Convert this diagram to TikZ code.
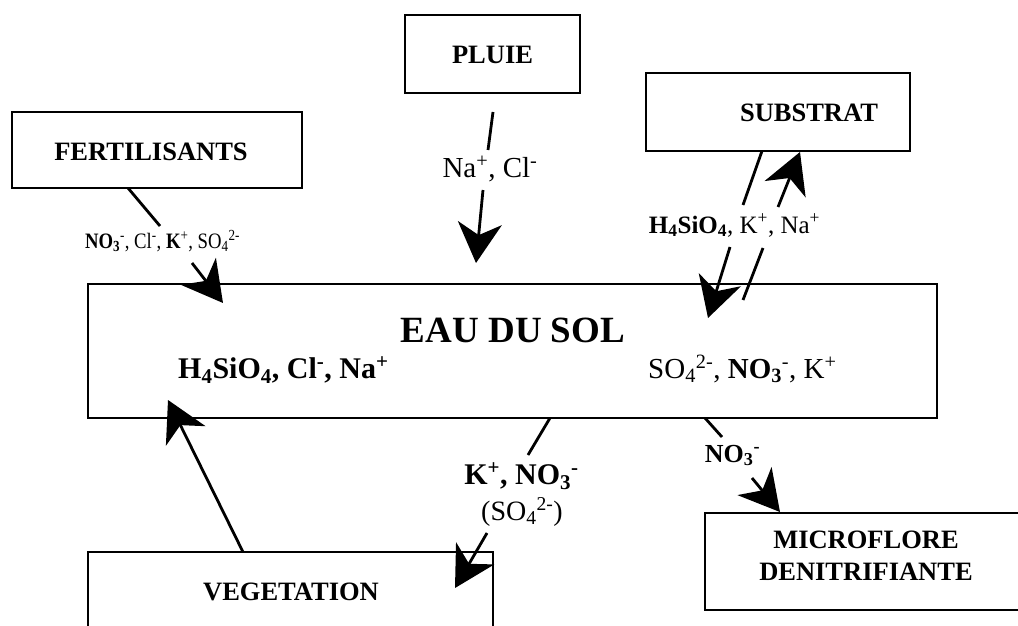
\documentclass[tikz,border=0pt]{standalone}
\usepackage{fontspec}
\usepackage{graphicx}
\setmainfont{Liberation Serif}
\usetikzlibrary{arrows.meta}
\begin{document}
\begin{tikzpicture}[x=1pt,y=-1pt,
  box/.style={draw, line width=1.2pt, inner sep=0pt},
  boxtext/.style={font=\fontsize{26.5}{32}\selectfont\bfseries, inner sep=0pt, align=center},
  flow/.style={line width=2.8pt},
  flowarrow/.style={line width=2.8pt, -{Stealth[length=40pt,width=44pt,inset=12pt]}},
  ion/.style={inner sep=0pt, anchor=base}]
\useasboundingbox (0,0) rectangle (1018,626);

% boxes
\node[box, minimum width=290pt, minimum height=76pt] (fert) at (157,150) {};
\node[boxtext] (fertT) at (151,152) {FERTILISANTS};
\node[box, minimum width=175pt, minimum height=78pt] (pluie) at (492.5,54) {};
\node[boxtext] (pluieT) at (492.5,55) {PLUIE};
\node[box, minimum width=264pt, minimum height=78pt] (sub) at (778,112) {};
\node[boxtext] (subT) at (809,113) {SUBSTRAT};
\node[box, minimum width=849pt, minimum height=134pt] (eau) at (512.5,351) {};
\node[box, minimum width=405pt, minimum height=84pt] (veg) at (290.5,594) {};
\node[boxtext] (vegT) at (291,592) {VEGETATION};
\node[box, minimum width=322pt, minimum height=97pt] (micro) at (866,561.5) {};
\node[boxtext] (microT) at (866,556) {MICROFLORE\\DENITRIFIANTE};

% texts in EAU DU SOL
\node[ion, font=\fontsize{37}{40}\selectfont\bfseries] (eauT) at (513,342) {EAU DU SOL};
\node[ion, anchor=base west, font=\fontsize{30}{34}\selectfont\bfseries] (eauL) at (178,378)
  {H\textsubscript{4}SiO\textsubscript{4}, Cl\textsuperscript{-}, Na\textsuperscript{+}};
\node[ion, anchor=base west, font=\fontsize{29}{34}\selectfont] (eauR) at (648,378)
  {SO\textsubscript{4}\textsuperscript{2-}, \textbf{NO\textsubscript{3}}\textsuperscript{-}, K\textsuperscript{+}};

% flow labels
\node[ion, font=\fontsize{22}{24}\selectfont] (lfert) at (162.5,248)
  {\scalebox{0.85}[1]{\textbf{NO\textsubscript{3}}\textsuperscript{-}, Cl\textsuperscript{-}, \textbf{K}\textsuperscript{+}, SO\textsubscript{4}\textsuperscript{2-}}};
\node[ion, font=\fontsize{29}{32}\selectfont] (lpluie) at (490,177)
  {Na\textsuperscript{+}, Cl\textsuperscript{-}};
\node[ion, font=\fontsize{25}{30}\selectfont] (lsub) at (734.5,233)
  {\textbf{H\textsubscript{4}SiO\textsubscript{4}}, K\textsuperscript{+}, Na\textsuperscript{+}};
\node[ion, font=\fontsize{30}{34}\selectfont\bfseries] (lveg) at (521.5,484)
  {K\textsuperscript{+}, NO\textsubscript{3}\textsuperscript{-}};
\node[ion, font=\fontsize{28}{32}\selectfont] (lveg2) at (522,520)
  {(SO\textsubscript{4}\textsuperscript{2-})};
\node[ion, font=\fontsize{26}{30}\selectfont\bfseries] (lmic) at (732.5,462)
  {NO\textsubscript{3}\textsuperscript{-}};

% connector end points
\coordinate (f1) at (128,188); \coordinate (f2) at (160,226);
\coordinate (f3) at (192,263); \coordinate (f4) at (223,303);
\coordinate (p1) at (493,112); \coordinate (p2) at (488,150);
\coordinate (p3) at (483,190); \coordinate (p4) at (476,263);
\coordinate (s1) at (762,151); \coordinate (s2) at (743,205);
\coordinate (s3) at (730,247); \coordinate (s4) at (708,318);
\coordinate (u1) at (743,300); \coordinate (u2) at (763,248);
\coordinate (u3) at (778,207); \coordinate (u4) at (800,152);
\coordinate (v1) at (243,552); \coordinate (v2) at (168,400);
\coordinate (e1) at (550,418); \coordinate (e2) at (528,455);
\coordinate (e3) at (487,533); \coordinate (e4) at (455,588);
\coordinate (m1) at (705,418); \coordinate (m2) at (722,437);
\coordinate (m3) at (752,478); \coordinate (m4) at (780,512);

% connectors
\draw[flow] (f1) -- (f2);  \draw[flowarrow] (f3) -- (f4);
\draw[flow] (p1) -- (p2);  \draw[flowarrow] (p3) -- (p4);
\draw[flow] (s1) -- (s2);  \draw[flowarrow] (s3) -- (s4);
\draw[flow] (u1) -- (u2);  \draw[flowarrow] (u3) -- (u4);
\draw[flowarrow] (v1) -- (v2);
\draw[flow] (e1) -- (e2);  \draw[flowarrow] (e3) -- (e4);
\draw[flow] (m1) -- (m2);  \draw[flowarrow] (m3) -- (m4);
\end{tikzpicture}
\end{document}
